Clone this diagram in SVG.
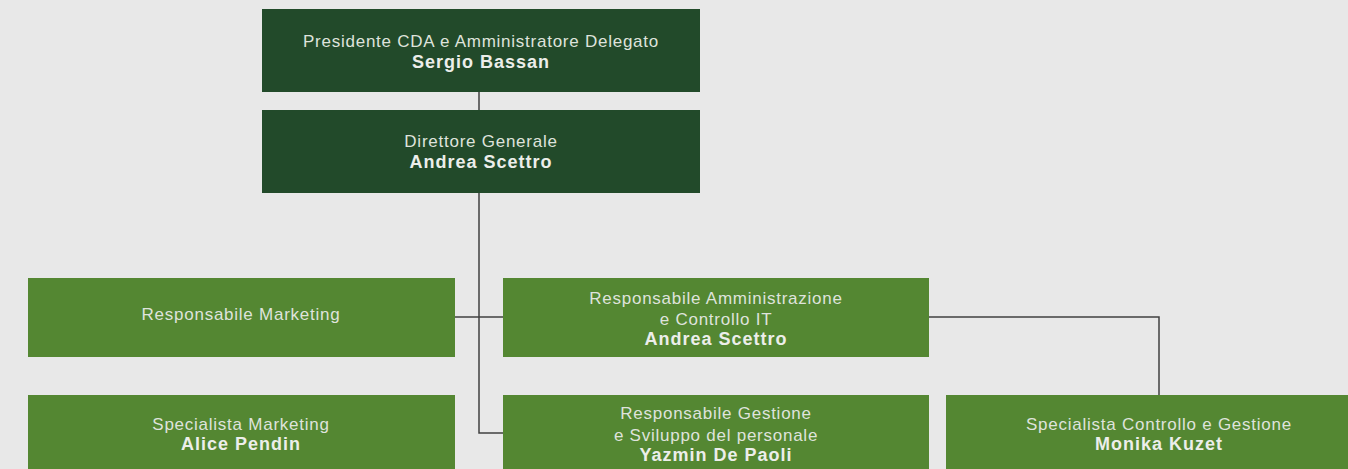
<svg xmlns="http://www.w3.org/2000/svg" width="1348" height="469" viewBox="0 0 1348 469">
<style>
.dark{fill:#224a2a}
.light{fill:#548732}
.t{font-family:"Liberation Sans","DejaVu Sans",sans-serif;font-size:17px;letter-spacing:0.75px;fill:#dfe3dc;text-anchor:middle}
.b{font-weight:bold;font-size:18px;letter-spacing:1px;fill:#eceeea}
.c{fill:none;stroke:#404040;stroke-width:1.5}
</style>
<rect width="1348" height="469" fill="#e8e8e8"/>
<g id="connectors">
<path class="c" d="M479 92V110"/>
<path class="c" d="M479 192V433H503"/>
<path class="c" d="M455 317H503"/>
<path class="c" d="M929 317H1159V395"/>
</g>
<g id="presidente">
<rect class="dark" x="262" y="9" width="438" height="83"/>
<text class="t" x="481" y="47">Presidente CDA e Amministratore Delegato</text>
<text class="t b" x="481" y="68">Sergio Bassan</text>
</g>
<g id="direttore">
<rect class="dark" x="262" y="110" width="438" height="83"/>
<text class="t" x="481" y="147">Direttore Generale</text>
<text class="t b" x="481" y="168">Andrea Scettro</text>
</g>
<g id="resp-marketing">
<rect class="light" x="28" y="278" width="427" height="79"/>
<text class="t" x="241" y="320">Responsabile Marketing</text>
</g>
<g id="resp-amministrazione">
<rect class="light" x="503" y="278" width="426" height="79"/>
<text class="t" x="716" y="304">Responsabile Amministrazione</text>
<text class="t" x="716" y="325">e Controllo IT</text>
<text class="t b" x="716" y="345">Andrea Scettro</text>
</g>
<g id="spec-marketing">
<rect class="light" x="28" y="395" width="427" height="79"/>
<text class="t" x="241" y="430">Specialista Marketing</text>
<text class="t b" x="241" y="450">Alice Pendin</text>
</g>
<g id="resp-gestione">
<rect class="light" x="503" y="395" width="426" height="79"/>
<text class="t" x="716" y="419">Responsabile Gestione</text>
<text class="t" x="716" y="441">e Sviluppo del personale</text>
<text class="t b" x="716" y="461">Yazmin De Paoli</text>
</g>
<g id="spec-controllo">
<rect class="light" x="946" y="395" width="426" height="79"/>
<text class="t" x="1159" y="430">Specialista Controllo e Gestione</text>
<text class="t b" x="1159" y="450">Monika Kuzet</text>
</g>
</svg>
